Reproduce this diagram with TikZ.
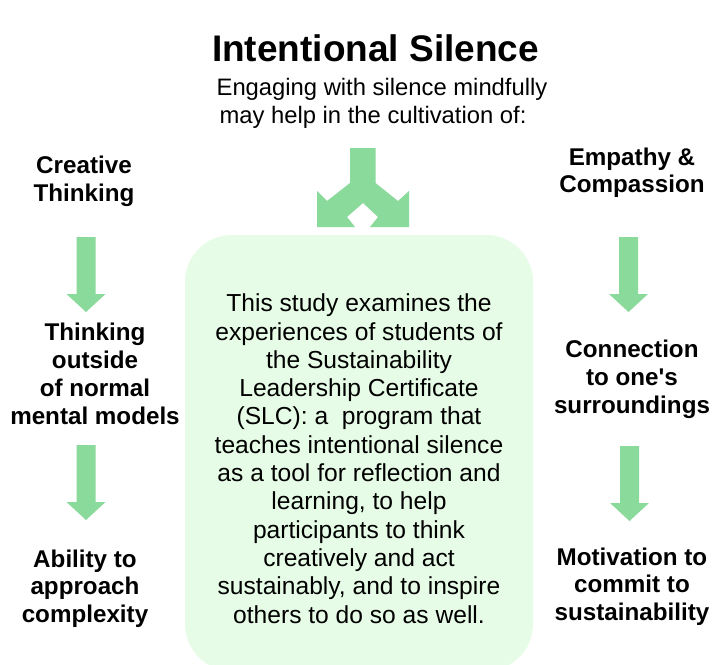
\documentclass[tikz,border=0pt]{standalone}
\usepackage{fontspec}
\setmainfont{Liberation Sans}
\newfontfamily\lsans{Liberation Sans}
\definecolor{arrowgreen}{RGB}{138,218,155}
\definecolor{boxgreen}{RGB}{230,252,230}
\newcommand\stacklines[2]{\vtop{\baselineskip=#1\lineskiplimit=-100pt\lineskip=0pt\halign{\hfil##\hfil\cr#2\crcr}}}
\tikzset{
  every node/.style={inner sep=0pt, anchor=base, text=black},
  titlef/.style={font=\lsans\bfseries\fontsize{37pt}{40pt}\selectfont},
  subf/.style={font=\lsans\fontsize{23.8pt}{27pt}\selectfont},
  lbl/.style={font=\lsans\bfseries\fontsize{24.2pt}{28pt}\selectfont},
  body/.style={font=\lsans\fontsize{24.6pt}{28.3pt}\selectfont},
  blockarrow/.pic={\fill[arrowgreen] (-9.5,0) -- (9.5,0) -- (9.5,57) -- (19.5,57) -- (0,75) -- (-19.5,57) -- (-9.5,57) -- cycle;}
}
\begin{document}
\begin{tikzpicture}[x=1pt,y=-1pt]
\fill[white] (0,0) rectangle (712,664);
\useasboundingbox (0,0) rectangle (712,664);
% central box
\node[fill=boxgreen, rounded corners=47pt, minimum width=348pt, minimum height=436pt, anchor=center] (box) at (359,453) {};
% title and subtitle
\node[titlef] (title) at (375.5,61) {Intentional Silence};
\node[subf] (sub1) at (382,95) {Engaging with silence mindfully};
\node[subf] (sub2) at (373,123) {may help in the cultivation of:};
% split arrow
\fill[arrowgreen] (350,148) -- (375.5,148) -- (375.5,183) -- (398,201) -- (409,191) -- (409,227) -- (370,227) -- (378,217) -- (363,203) -- (347,217) -- (355,227) -- (317,227) -- (317,191) -- (327,201) -- (350,183) -- cycle;
% left column
\node[lbl] (creative) at (84,173) {\stacklines{28pt}{Creative\cr Thinking}};
\node[lbl] (outside) at (95,340) {\stacklines{28.3pt}{Thinking\cr outside\cr of normal\cr mental models}};
\node[lbl] (complex) at (85,567) {\stacklines{27.5pt}{Ability to\cr approach\cr complexity}};
% right column
\node[lbl] (empathy) at (632,165) {\stacklines{27pt}{Empathy \&\cr Compassion}};
\node[lbl] (connect) at (632,357) {\stacklines{28pt}{Connection\cr to one's\cr surroundings}};
\node[lbl] (motiv) at (632,565) {\stacklines{27.5pt}{Motivation to\cr commit to\cr sustainability}};
% arrows
\pic at (86,237) {blockarrow};
\pic at (86,445) {blockarrow};
\pic at (628.5,237) {blockarrow};
\pic at (629.5,446) {blockarrow};
% body text
\node[body] (study) at (359,311.7) {\stacklines{28.3pt}{This study examines the\cr experiences of students of\cr the Sustainability\cr Leadership Certificate\cr (SLC): a\ \ program that\cr teaches intentional silence\cr as a tool for reflection and\cr learning, to help\cr participants to think\cr creatively and act\cr sustainably, and to inspire\cr others to do so as well.}};
\end{tikzpicture}
\end{document}
